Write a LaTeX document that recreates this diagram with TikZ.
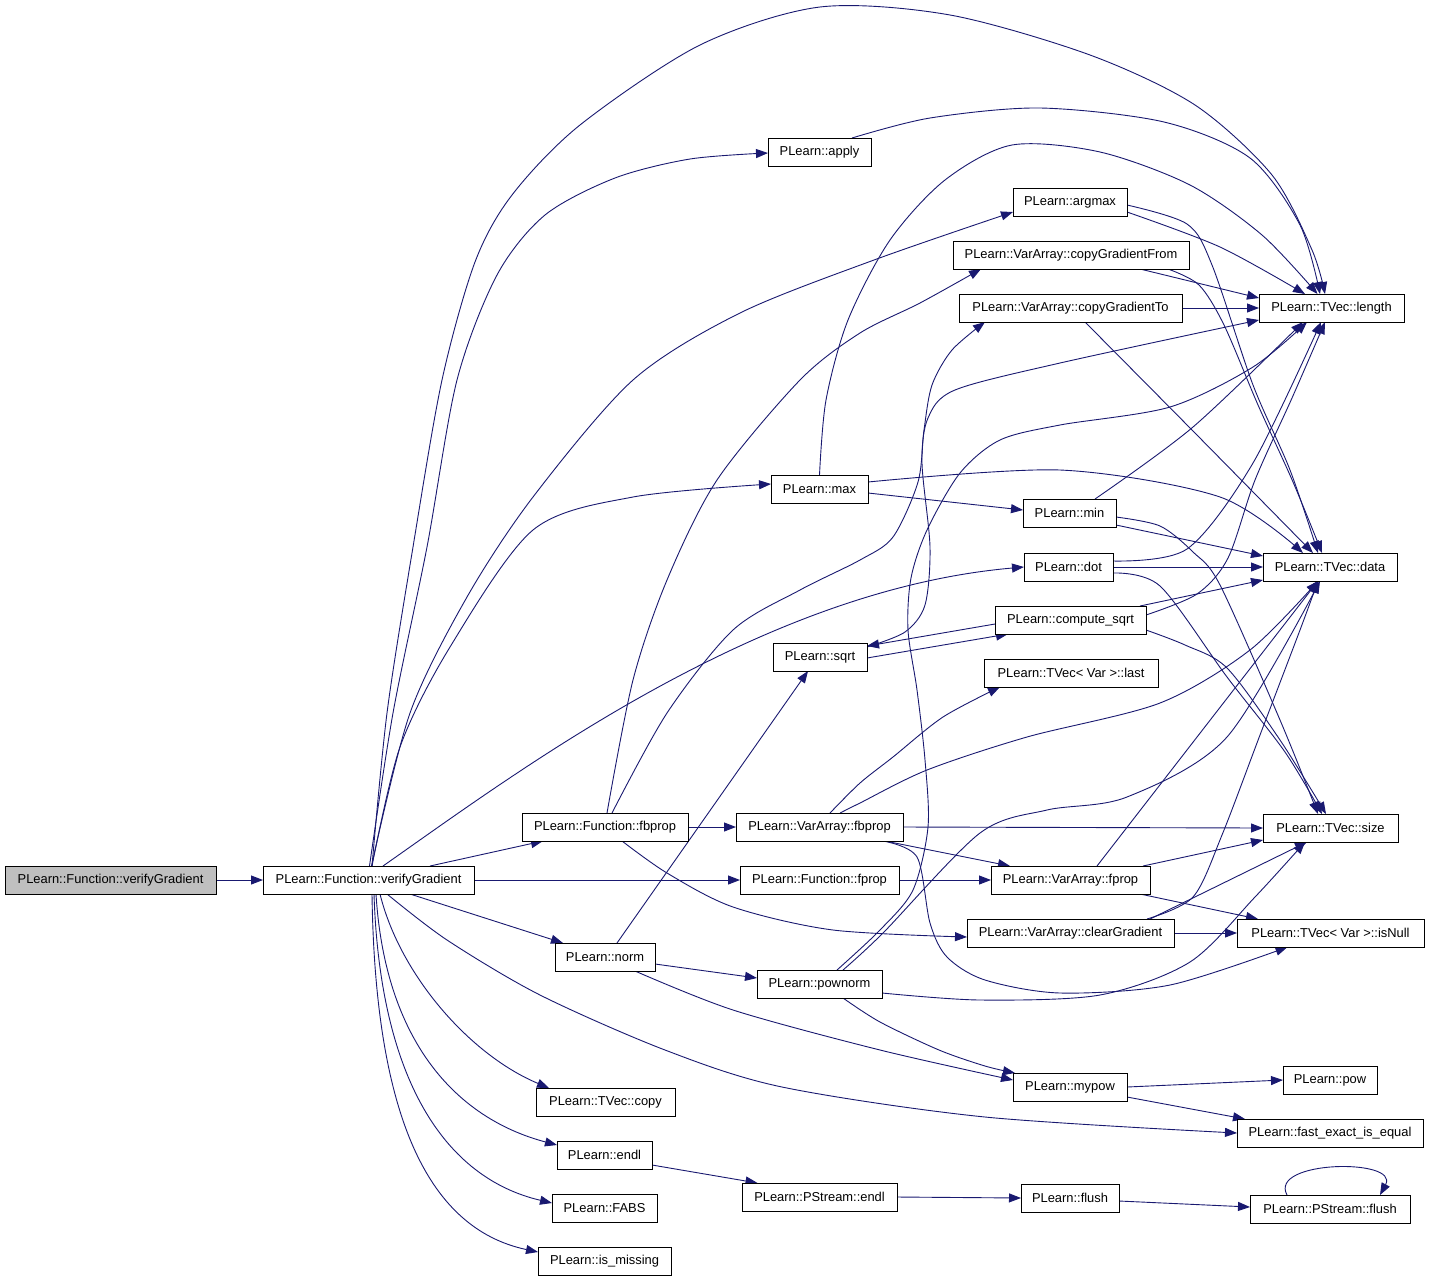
\documentclass[tikz,border=0pt]{standalone}
\usepackage{fontspec}
\setmainfont{Liberation Sans}
\usetikzlibrary{arrows.meta}
\definecolor{edgec}{HTML}{191970}
\definecolor{rootc}{HTML}{BFBFBF}
\pgfdeclarelayer{bg}
\pgfsetlayers{bg,main}
\newcommand{\mynode}[6]{\node[box, minimum width={(#4)-(#2)}, minimum height={(#5)-(#3)}] (#1) at ({((#2)+(#4))/2},{((#3)+(#5))/2}) {#6};}
\begin{document}
\begin{tikzpicture}[x=1pt,y=-1pt,
  box/.style={draw=black, line width=1pt, fill=white, inner sep=0pt, outer sep=0pt, text=black, font=\fontsize{12.9}{15}\selectfont},
  edge/.style={draw=edgec, line width=0.9pt, -{Triangle[length=12pt,width=9pt]}}]
\useasboundingbox (0,0) rectangle (1429,1283);
\node[box, fill=rootc, minimum width=211, minimum height=28] (root) at (110.5,880) {PLearn::Function::verifyGradient};
\mynode{V}{263}{866}{474}{894}{PLearn::Function::verifyGradient}
\mynode{apply}{768}{138}{871}{166}{PLearn::apply}
\mynode{argmax}{1013}{188}{1127}{216}{PLearn::argmax}
\mynode{cgFrom}{953}{241}{1189}{269}{PLearn::VarArray::copyGradientFrom}
\mynode{cgTo}{959}{294}{1182}{322}{PLearn::VarArray::copyGradientTo}
\mynode{length}{1259}{294}{1404}{322}{PLearn::TVec::length}
\mynode{max}{771}{475}{868}{503}{PLearn::max}
\mynode{min}{1023}{499}{1116}{527}{PLearn::min}
\mynode{dot}{1024}{553}{1113}{581}{PLearn::dot}
\mynode{data}{1263}{553}{1397}{581}{PLearn::TVec::data}
\mynode{csqrt}{995}{606}{1146}{634}{PLearn::compute\_sqrt}
\mynode{sqrt}{773}{643}{867}{671}{PLearn::sqrt}
\mynode{last}{984}{659}{1158}{687}{PLearn::TVec< Var >::last}
\mynode{ffbprop}{522}{813}{688}{841}{PLearn::Function::fbprop}
\mynode{vfbprop}{736}{813}{903}{841}{PLearn::VarArray::fbprop}
\mynode{size}{1263}{814}{1398}{842}{PLearn::TVec::size}
\mynode{ffprop}{740}{866}{899}{894}{PLearn::Function::fprop}
\mynode{vfprop}{991}{866}{1150}{894}{PLearn::VarArray::fprop}
\mynode{clear}{967}{919}{1174}{947}{PLearn::VarArray::clearGradient}
\mynode{isnull}{1237}{919}{1424}{947}{PLearn::TVec< Var >::isNull}
\mynode{norm}{555}{943}{655}{971}{PLearn::norm}
\mynode{pownorm}{757}{970}{882}{998}{PLearn::pownorm}
\mynode{mypow}{1013}{1073}{1127}{1101}{PLearn::mypow}
\mynode{pow}{1283}{1066}{1377}{1094}{PLearn::pow}
\mynode{fexact}{1237}{1119}{1423}{1147}{PLearn::fast\_exact\_is\_equal}
\mynode{copy}{536}{1088}{675}{1116}{PLearn::TVec::copy}
\mynode{endl}{557}{1141}{652}{1169}{PLearn::endl}
\mynode{psendl}{742}{1183}{897}{1211}{PLearn::PStream::endl}
\mynode{flush}{1021}{1184}{1119}{1212}{PLearn::flush}
\mynode{psflush}{1250}{1195}{1410}{1223}{PLearn::PStream::flush}
\mynode{fabs}{552}{1194}{657}{1222}{PLearn::FABS}
\mynode{ismissing}{538}{1247}{671}{1275}{PLearn::is\_missing}
\begin{pgfonlayer}{bg}
\draw[edge] (root.east) -- (V.west);
\draw[edge] plot[smooth] coordinates {([xshift=3.5]V.north) (387,713) (413,547) (442,380) (475,262) (512,195) (580,125) (700,45) (820,7) (950,15) (1090,55) (1195,105) (1272,175) (1312,250) ([xshift=-6.5]length.north)};
\draw[edge] plot[smooth] coordinates {([xshift=1]V.north) (393,713) (427,547) (457,380) (497,275) (545,215) (615,178) (690,159) ([yshift=-1]apply.west)};
\draw[edge] plot[smooth] coordinates {([xshift=32.5]apply.north) (930,118) (1040,108) (1164,122) (1250,158) (1300,225) ([xshift=-11.5]length.north)};
\draw[edge] plot[smooth] coordinates {([xshift=3]V.north) (410,713) (467,597) (533,497) (633,380) (740,313) (874,260) ([yshift=-10]argmax.west)};
\draw[edge] plot[smooth] coordinates {([yshift=-10]argmax.east) (1220,247) ([xshift=-26.5]length.north)};
\draw[edge] plot[smooth] coordinates {([yshift=-3]argmax.east) (1187,224) (1212,265) (1253,385) (1290,470) ([xshift=-12]data.north)};
\draw[edge] ([xshift=69]cgFrom.south) -- ([yshift=10]length.west);
\draw[edge] plot[smooth] coordinates {([xshift=97]cgFrom.south) (1199,285) (1224,325) (1258,405) (1293,482) ([xshift=-8]data.north)};
\draw[edge] (cgTo.east) -- (length.west);
\draw[edge] plot[smooth] coordinates {([xshift=14.5]cgTo.south) (1193,431) ([xshift=-17]data.north)};
\draw[edge] plot[smooth] coordinates {(max.north) (826,400) (848,320) (890,240) (945,180) (1012,145) (1100,152) (1190,185) (1262,235) ([xshift=-14]length.north)};
\draw[edge] plot[smooth] coordinates {([yshift=7]max.east) (1060,470) (1220,497) ([xshift=-27]data.north)};
\draw[edge] ([yshift=-4]max.east) -- ([yshift=3]min.west);
\draw[edge] plot[smooth] coordinates {([xshift=25.5]min.north) (1193,427) ([xshift=-28.5]length.south)};
\draw[edge] ([yshift=-12]min.east) -- ([yshift=11]data.west);
\draw[edge] plot[smooth] coordinates {([yshift=-4]min.east) (1160,526) (1193,552) (1220,585) (1280,720) ([xshift=-12.5]size.north)};
\draw[edge] (dot.east) -- (data.west);
\draw[edge] plot[smooth] coordinates {([yshift=6]dot.east) (1187,549) (1253,463) ([xshift=-10.5]length.south)};
\draw[edge] plot[smooth] coordinates {([yshift=-6]dot.east) (1160,586) (1227,677) (1285,752) ([xshift=-8.5]size.north)};
\draw[edge] ([xshift=-6]csqrt.north east) -- ([yshift=1]data.south west);
\draw[edge] plot[smooth] coordinates {([yshift=5]csqrt.east) (1197,594) (1228,558) (1255,480) (1292,398) ([xshift=-6.5]length.south)};
\draw[edge] plot[smooth] coordinates {([yshift=-10]csqrt.east) (1185,645) (1227,668) (1280,740) ([xshift=-4.5]size.north)};
\draw[edge] ([yshift=-4]csqrt.west) -- ([yshift=11]sqrt.east);
\draw[edge] ([yshift=-1]sqrt.east) -- ([xshift=-62.5]csqrt.south);
\draw[edge] ([xshift=12]norm.north) -- ([xshift=-12]sqrt.south);
\draw[edge] ([xshift=14.5]V.north) .. controls (520,770) and (760,590) .. (dot.west);
\draw[edge] plot[smooth] coordinates {([xshift=3.5]V.north) (400,747) (450,647) (533,530) (633,497) ([yshift=5]max.west)};
\draw[edge] ([xshift=61.5]V.north) -- ([xshift=-62]ffbprop.south);
\draw[edge] (V.east) -- (ffprop.west);
\draw[edge] ([xshift=41.5]V.south) -- ([xshift=-42]norm.north);
\draw[edge] plot[smooth] coordinates {([xshift=18.5]V.south) (447,940) (540,995) (665,1050) (782,1087) (985,1117) (fexact.west)};
\draw[edge] ([xshift=11.5]V.south) .. controls (400,975) and (470,1055) .. ([xshift=-56.5]copy.north);
\draw[edge] ([xshift=7.5]V.south) .. controls (385,1040) and (455,1118) .. ([yshift=10]endl.west);
\draw[edge] ([xshift=5.5]V.south) .. controls (380,1080) and (445,1178) .. ([yshift=5]fabs.west);
\draw[edge] ([xshift=3.5]V.south) .. controls (375,1110) and (425,1228) .. ([yshift=9]ismissing.west);
\draw[edge] ([yshift=-7]norm.east) -- ([yshift=6]pownorm.west);
\draw[edge] plot[smooth] coordinates {([xshift=30]norm.south) (733,1010) (880,1050) ([yshift=7]mypow.west)};
\draw[edge] plot[smooth] coordinates {([xshift=23.5]pownorm.south) (880,1022) (939,1050) (985,1066) ([xshift=-55]mypow.north)};
\draw[edge] (mypow.east) -- (pow.west);
\draw[edge] ([yshift=-10]mypow.east) -- ([xshift=-85]fexact.north);
\draw[edge] ([yshift=-10]endl.east) -- ([xshift=-62]psendl.north);
\draw[edge] (psendl.east) -- (flush.west);
\draw[edge] ([yshift=-3]flush.east) -- ([yshift=2]psflush.west);
\draw[edge] ([xshift=-43]psflush.north) .. controls (1268,1160) and (1400,1158) .. ([xshift=50]psflush.north);
\draw[edge] (ffprop.east) -- (vfprop.west);
\draw[edge] (ffbprop.east) -- (vfbprop.west);
\draw[edge] plot[smooth] coordinates {([xshift=2]ffbprop.north) (633,680) (667,580) (717,480) (800,380) (860,333) (920,303) ([xshift=-90]cgFrom.south)};
\draw[edge] plot[smooth] coordinates {([xshift=7]ffbprop.north) (667,713) (733,630) (800,590) (860,560) (893,537) (918,482) (924,430) (932,385) (952,350) ([xshift=-85.5]cgTo.south)};
\draw[edge] plot[smooth] coordinates {([yshift=10]sqrt.east) (905,632) (925,605) (930,547) (922,463) (928,418) (955,390) (1060,363) ([yshift=-12]length.west)};
\draw[edge] plot[smooth] coordinates {([xshift=17.5]pownorm.north) (880,930) (913,890) (928,827) (925,760) (917,690) (908,630) (911,578) (927,530) (960,473) (1000,440) (1060,425) (1170,407) (1253,367) ([xshift=-24.5]length.south)};
\draw[edge] plot[smooth] coordinates {([xshift=23.5]pownorm.north) (883,933) (980,833) (1047,810) (1127,797) (1227,737) ([xshift=-10]data.south)};
\draw[edge] plot[smooth] coordinates {([yshift=-9]pownorm.east) (980,1000) (1100,995) (1190,962) (1255,897) ([xshift=-25.5]size.south)};
\draw[edge] plot[smooth] coordinates {([xshift=63.5]vfbprop.south) (917,857) (930,923) (947,957) (985,980) (1060,993) (1170,985) ([xshift=-43]isnull.south)};
\draw[edge] plot[smooth] coordinates {([xshift=10.5]vfbprop.north) (860,783) (893,757) (943,717) ([xshift=-71]last.south)};
\draw[edge] plot[smooth] coordinates {([xshift=20.5]vfbprop.north) (860,803) (927,770) (1027,737) (1160,703) (1250,650) ([xshift=-12]data.south)};
\draw[edge] (vfbprop.east) -- (size.west);
\draw[edge] ([xshift=65.5]vfbprop.south) -- ([xshift=-60.5]vfprop.north);
\draw[edge] ([xshift=72.5]vfprop.north) -- ([yshift=2]size.south west);
\draw[edge] ([xshift=69.5]vfprop.south) -- ([xshift=-72.5]isnull.north);
\draw[edge] ([xshift=26.5]vfprop.north) -- ([xshift=-12]data.south);
\draw[edge] (clear.east) -- (isnull.west);
\draw[edge] ([xshift=79.5]clear.north) -- ([xshift=-23.5]size.south);
\draw[edge] plot[smooth] coordinates {([xshift=76.5]clear.north) (1193,897) (1222,835) (1260,735) (1300,630) ([xshift=-12]data.south)};
\draw[edge] plot[smooth] coordinates {([xshift=17]ffbprop.south) (667,873) (733,907) (833,930) ([yshift=-4]clear.west)};
\end{pgfonlayer}
\end{tikzpicture}
\end{document}
